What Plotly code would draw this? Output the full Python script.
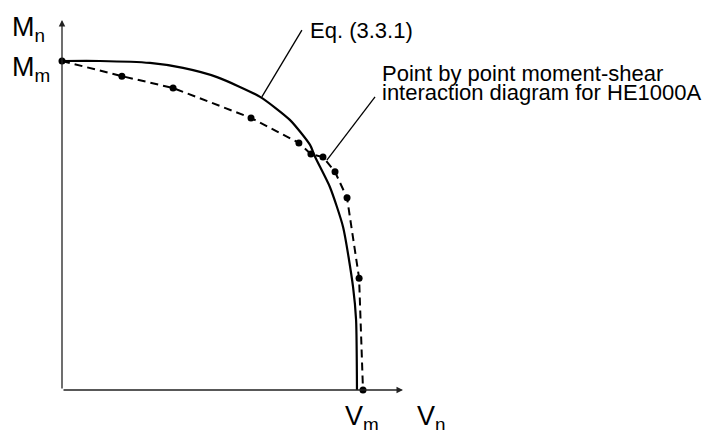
import plotly.graph_objects as go

# Normalised shear V/Vm and moment M/Mm
eq_v = [0.0, 0.126, 0.292, 0.402, 0.515, 0.658, 0.757, 0.824, 0.841, 0.890, 0.934, 0.967, 0.977, 0.980]
eq_m = [1.0, 1.0, 0.994, 0.979, 0.951, 0.891, 0.821, 0.745, 0.708, 0.617, 0.495, 0.313, 0.213, 0.0]

pt_v = [0.0, 0.199, 0.369, 0.628, 0.787, 0.827, 0.867, 0.907, 0.947, 0.987, 1.0]
pt_m = [1.0, 0.954, 0.918, 0.827, 0.751, 0.717, 0.708, 0.663, 0.584, 0.340, 0.0]

W, H = 711, 430
FONT = "Liberation Sans, Arial, sans-serif"

fig = go.Figure()
fig.add_trace(go.Scatter(x=eq_v, y=eq_m, mode="lines",
                         line=dict(color="black", width=2.2, shape="spline", smoothing=0.6),
                         cliponaxis=False, showlegend=False))
fig.add_trace(go.Scatter(x=pt_v, y=pt_m, mode="lines+markers",
                         line=dict(color="black", width=2, dash="8px,5px"),
                         marker=dict(color="black", size=7),
                         cliponaxis=False, showlegend=False))

# axes with arrows
fig.add_annotation(x=0, y=1.125, ax=0, ay=0, xref="x", yref="y", axref="x", ayref="y",
                   showarrow=True, arrowhead=2, arrowsize=1, arrowwidth=1.3, arrowcolor="#222", text="")
fig.add_annotation(x=1.133, y=0, ax=0, ay=0, xref="x", yref="y", axref="x", ayref="y",
                   showarrow=True, arrowhead=2, arrowsize=1, arrowwidth=1.3, arrowcolor="#222", text="")

# leader lines
fig.add_shape(type="line", x0=0.664, y0=0.891, x1=0.797, y1=1.094, line=dict(color="black", width=1.3))
fig.add_shape(type="line", x0=0.880, y0=0.699, x1=1.040, y1=0.891, line=dict(color="black", width=1.3))

def px_text(text, x, y, size, xanchor="left", yanchor="middle"):
    fig.add_annotation(text=text, x=x / W, y=1 - y / H, xref="paper", yref="paper",
                       xanchor=xanchor, yanchor=yanchor, showarrow=False,
                       font=dict(family=FONT, size=size, color="black"))

px_text("Eq. (3.3.1)", 308, 30, 22)
px_text("Point by point moment-shear", 380, 73, 22)
px_text("interaction diagram for HE1000A", 380, 93, 22)
px_text("M<sub>n</sub>", 10, 29, 27)
px_text("M<sub>m</sub>", 10, 69, 27)
px_text("V<sub>m</sub>", 343, 418, 27)
px_text("V<sub>n</sub>", 415, 418, 27)

fig.update_layout(
    width=W, height=H, margin=dict(l=0, r=0, t=0, b=0),
    paper_bgcolor="white", plot_bgcolor="white",
    xaxis=dict(range=[-62 / 301, (W - 62) / 301], visible=False),
    yaxis=dict(range=[-(H - 390) / 329, 390 / 329], visible=False),
)
fig.write_html("out.html")
